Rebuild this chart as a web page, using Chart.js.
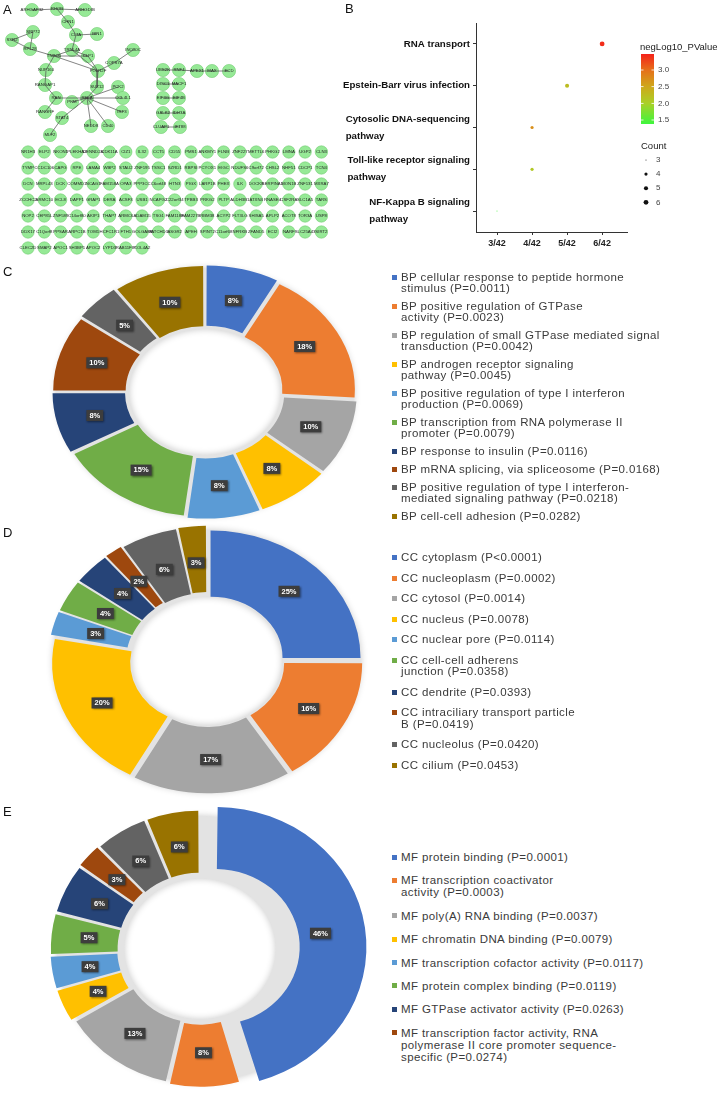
<!DOCTYPE html>
<html>
<head>
<meta charset="utf-8">
<script src="https://cdn.jsdelivr.net/npm/chart.js@4.4.1/dist/chart.umd.min.js"></script>
<style>
body { margin: 0; background: #fff; }
#page { position: relative; width: 717px; height: 1094px; overflow: hidden; font-family: Arial, "Liberation Sans", sans-serif; }
canvas { position: absolute; }
.tag { position: absolute; font-size: 13px; color: #111; }
.legend { position: absolute; left: 392px; font-size: 11.5px; letter-spacing: 0.4px; color: #3a3a3a; white-space: pre; }
.legend .it { position: relative; padding-left: 9px; }
.legend .sw { position: absolute; left: 0; width: 5px; height: 5px; }
</style>
</head>
<body>
<div id="page">
  <canvas id="net" width="360" height="262" style="left:0;top:0"></canvas>
  <canvas id="kegg" width="387" height="260" style="left:330px;top:0"></canvas>
  <canvas id="bp" width="380" height="380" style="left:15px;top:202px"></canvas>
  <canvas id="cc" width="380" height="380" style="left:17px;top:471px"></canvas>
  <canvas id="mf" width="380" height="380" style="left:10px;top:759px"></canvas>
  <div class="tag" style="left:3px;top:2px">A</div>
  <div class="tag" style="left:345px;top:1px">B</div>
  <div class="tag" style="left:3px;top:264px">C</div>
  <div class="tag" style="left:3px;top:525px">D</div>
  <div class="tag" style="left:3px;top:804px">E</div>
  <div class="legend" id="bpLegend" style="top:272px"></div>
  <div class="legend" id="ccLegend" style="top:552px"></div>
  <div class="legend" id="mfLegend" style="top:851px"></div>
</div>
<script>
Chart.defaults.font.family = 'Arial, "Liberation Sans", sans-serif';
Chart.defaults.animation = false;

// ---- A: interaction network (layout coordinates in px of the drawing)
const netNames = ['ARHGAP32','RHOB','ARHGDIB','CHN1','CLTA','BIN1','SRP72','SSR2','RPL28','TRNL4A','TNPO1','CLP1','POLR2F','COPS7A','INO80C','NUP160','RANGAP1','RAN','PKM','RELA','SUZ12','PCK2','CCL4L1','IRF3','CD40','NEDD8','STAT4','MLF2','RANGRF',
  'UBE2K','RNF4','APEX1','MAX','ECD','DISC1','MACF1','EIF3G','EIF4B','GALK2','IDH3A','CLUAP1','IFT88'];
const netX = [32,57,85,68,76,97,33,12,30,72,54,88,98,114,133,46,45,56,72,87,97,118,123,122,108,91,62,50,45,
  163,179,197,212,229,163,179,163,179,163,179,161,180];
const netY = [10,9,10,22,35,34,32,40,49,50,56,56,71,63,50,70,85,98,102,98,87,87,98,112,126,126,118,135,112,
  70,70,71,71,71,84,84,98,98,113,113,127,127];
const edgeFrom = ['RHOB','RHOB','RHOB','CHN1','CLTA','CLTA','SRP72','SRP72','SSR2','RPL28','TNPO1','TNPO1','TNPO1','TRNL4A','TRNL4A','CLP1','POLR2F','COPS7A','POLR2F','TNPO1','NUP160','RANGAP1','RAN','RAN','PKM','SUZ12','RELA','RELA','RELA','RELA','RELA','RELA','STAT4',
  'UBE2K','RNF4','APEX1','MAX','DISC1','EIF3G','GALK2','CLUAP1'];
const edgeTo = ['ARHGAP32','ARHGDIB','CHN1','CLTA','BIN1','TRNL4A','SSR2','RPL28','RPL28','TNPO1','TRNL4A','CLP1','POLR2F','CLP1','POLR2F','POLR2F','COPS7A','INO80C','SUZ12','NUP160','RANGAP1','RAN','RELA','RANGRF','RELA','RELA','PCK2','CCL4L1','IRF3','CD40','NEDD8','STAT4','MLF2',
  'RNF4','APEX1','MAX','ECD','MACF1','EIF4B','IDH3A','IFT88'];
const gridRows = [
  ['NR1H3','ELP2','NKON1','PLEKHA2','DENND2A','CDK11A','CIZ1','IL32','CCT5','CD55','PMS1','ANKMY1','FLNB','ZNF227','METTL6','PHKG2','LMNA','UGP2','CLN3'],
  ['TYMP','CCDC106','CAPG','RPE','LAMA4','WBP2','STAU2','ZNF195','TSSC1','SZRD1','RBPSI','PCYOX1','EIGC','NDUFS6','C9orf72','CHSL2','NHF51','CDCP1','TCN4'],
  ['DCN','MRPL43','DCK','COMMD1','NCAG1','FAM158A','OPA3','PPP3CC','C6orf48','HTN3','PIGX','LARP1B','PHEX','ILK','DOCK8','SERPINA1','MON1B','ZNF131','MXRA7'],
  ['ZCCHC2','ARMC10','ECL8','DAPP1','GRAP1','DERA','ACSF3','USB1','NCAPG2','C22orf34','TPBB3','PRKG2','PLTP','ALDH3B1','ATXN4','RNASE4','CSF2RA','SLC1A5','TARS'],
  ['NOP2','CEP85L','ZNF589','C14orf80','AKIP1','THAP7','ARMC6','ADAM15','TSG1','FAM118B','FAM227B','RBM38','ACYP2','FLT3LG','SHISA5','APLP2','ACOT8','TOR3A','USP8'],
  ['DDX17','C1Qorf8','PPSAR','ARPC1B','TOM1','HCFC1R1','FTH1','GOLGA8A','PATCHD3','ASGR2','APEH','SPINT2','C11orf68','NFRKB','ZFAND5','ECI2','NARF','SLC25A43','SIRT2'],
  ['CLEC2D','SMAP2','APOC1','SH3BP1','APOC2','LYPD3','RAB11FIP','COL4A2']
];

// ---- B: KEGG pathways
const pathways = ['RNA transport','Epstein-Barr virus infection','Cytosolic DNA-sequencing pathway','Toll-like receptor signaling pathway','NF-Kappa B signaling pathway'];
const pathwayLines = [['RNA transport'],['Epstein-Barr virus infection'],['Cytosolic DNA-sequencing','pathway'],['Toll-like receptor signaling','pathway'],['NF-Kappa B signaling','pathway']];
const geneCount = [6, 5, 4, 4, 3];
const negLogP = [3.42, 2.25, 2.72, 2.1, 1.42];
const ratioTicks = [3, 4, 5, 6];
const colourTicks = [3.0, 2.5, 2.0, 1.5];
const countTicks = [3, 4, 5, 6];

// ---- C/D/E: GO terms
const goColours = ['#4472C4','#ED7D31','#A5A5A5','#FFC000','#5B9BD5','#70AD47','#264478','#9E480E','#636363','#997300'];
const bpLabels = ['BP cellular response to peptide hormone\nstimulus (P=0.0011)','BP positive regulation of GTPase\nactivity (P=0.0023)','BP regulation of small GTPase mediated signal\ntransduction (P=0.0042)','BP androgen receptor signaling\npathway (P=0.0045)','BP positive regulation of type I interferon\nproduction (P=0.0069)','BP transcription from RNA polymerase II\npromoter (P=0.0079)','BP response to insulin (P=0.0116)','BP mRNA splicing, via spliceosome (P=0.0168)','BP positive regulation of type I interferon-\nmediated signaling pathway (P=0.0218)','BP cell-cell adhesion (P=0.0282)'];
const bpShare = [8, 18, 10, 8, 8, 15, 8, 10, 5, 10];
const ccLabels = ['CC cytoplasm (P<0.0001)','CC nucleoplasm (P=0.0002)','CC cytosol (P=0.0014)','CC nucleus (P=0.0078)','CC nuclear pore (P=0.0114)','CC cell-cell adherens\njunction (P=0.0358)','CC dendrite (P=0.0393)','CC intraciliary transport particle\nB (P=0.0419)','CC nucleolus (P=0.0420)','CC cilium (P=0.0453)'];
const ccShare = [25, 16, 17, 20, 3, 4, 4, 2, 6, 3];
const mfLabels = ['MF protein binding (P=0.0001)','MF transcription coactivator\nactivity (P=0.0003)','MF poly(A) RNA binding (P=0.0037)','MF chromatin DNA binding (P=0.0079)','MF transcription cofactor activity (P=0.0117)','MF protein complex binding (P=0.0119)','MF GTPase activator activity (P=0.0263)','MF transcription factor activity, RNA\npolymerase II core promoter sequence-\nspecific (P=0.0274)'];
const mfShare = [46, 8, 13, 4, 4, 5, 6, 3, 6, 6];


// ================= A =================
function netPoint(name) {
	var i = netNames.indexOf(name);
	return {x: netX[i], y: netY[i], name: name};
}

function displayNetwork() {
	var ctx = document.getElementById("net").getContext("2d");
	var datasets = [];
	for (var e = 0; e < edgeFrom.length; e++) {
		datasets.push({
			data: [netPoint(edgeFrom[e]), netPoint(edgeTo[e])],
			showLine: true, borderColor: '#505050', borderWidth: 0.7, pointRadius: 0
		});
	}
	datasets.push({
		data: netNames.map(netPoint),
		pointRadius: 6.6, backgroundColor: '#96e996', borderColor: '#72cc72', borderWidth: 0.6,
		isNode: true
	});
	var grid = [];
	gridRows.forEach(function(row, r) {
		row.forEach(function(name, c) {
			grid.push({x: 28 + c * 16.3, y: 152 + r * 16, name: name});
		});
	});
	datasets.push({
		data: grid,
		pointRadius: 6.2, backgroundColor: '#96e996', borderColor: '#72cc72', borderWidth: 0.6,
		isNode: true
	});

	const nodeText = {
		id: 'nodeText',
		afterDatasetsDraw(chart) {
			var c = chart.ctx;
			c.save();
			c.font = '4.3px Arial';
			c.fillStyle = '#222';
			c.textAlign = 'center';
			c.textBaseline = 'middle';
			chart.data.datasets.forEach(function(ds, di) {
				if (!ds.isNode) return;
				chart.getDatasetMeta(di).data.forEach(function(pt, j) {
					c.fillText(ds.data[j].name, pt.x, pt.y);
				});
			});
			c.restore();
		}
	};

	new Chart(ctx, {
		type: 'scatter',
		data: { datasets: datasets },
		options: {
			responsive: false,
			layout: { padding: 0, autoPadding: false },
			scales: {
				x: { display: false, min: 0, max: 360 },
				y: { display: false, min: 0, max: 262, reverse: true }
			},
			plugins: { legend: { display: false }, tooltip: { enabled: false } }
		},
		plugins: [nodeText]
	});
}


// ================= B =================
function pColour(v) {
	const stops = [[1.38, [62, 246, 62]], [2.0, [170, 208, 40]], [2.5, [206, 168, 26]], [3.0, [230, 112, 26]], [3.48, [244, 34, 26]]];
	if (v <= stops[0][0]) return 'rgb(' + stops[0][1].join(',') + ')';
	for (var i = 1; i < stops.length; i++) {
		if (v <= stops[i][0]) {
			var t = (v - stops[i-1][0]) / (stops[i][0] - stops[i-1][0]);
			var a = stops[i-1][1], b = stops[i][1];
			return 'rgb(' + a.map(function(x, k) { return Math.round(x + (b[k] - x) * t); }).join(',') + ')';
		}
	}
	return 'rgb(' + stops[stops.length-1][1].join(',') + ')';
}

function countRadius(n) {
	return 0.5 + 1.9 * Math.sqrt((n - 3) / 3);
}

function displayKegg() {
	var ctx = document.getElementById("kegg").getContext("2d");

	const keggText = {
		id: 'keggText',
		afterDraw(chart) {
			var c = chart.ctx;
			var ys = chart.scales.y;
			c.save();
			c.fillStyle = '#111';
			c.font = 'bold 9.7px Arial';
			c.textBaseline = 'middle';
			c.textAlign = 'left';
			pathwayLines.forEach(function(lines, i) {
				var y = ys.getPixelForValue(i);
				var w = Math.max.apply(null, lines.map(function(l) { return c.measureText(l).width; }));
				var x0 = chart.chartArea.left - 6 - w;
				if (lines.length === 1) {
					c.fillText(lines[0], x0, y);
				} else {
					c.fillText(lines[0], x0, y - 8.5);
					c.fillText(lines[1], x0, y + 8.5);
				}
			});

			// colour bar legend
			var bx = 311, top = 54, bot = 124, lo = 1.38, hi = 3.48;
			var yOf = function(v) { return bot - (v - lo) / (hi - lo) * (bot - top); };
			for (var py = top; py < bot; py++) {
				c.fillStyle = pColour(lo + (bot - py - 0.5) / (bot - top) * (hi - lo));
				c.fillRect(bx, py, 13, 1);
			}
			c.font = '9.5px Arial';
			c.fillStyle = '#222';
			c.fillText('negLog10_PValue', 310, 47.5);
			c.font = '8px Arial';
			colourTicks.forEach(function(v) {
				var y = yOf(v);
				c.fillStyle = '#fff';
				c.fillRect(bx, y - 0.4, 2.5, 0.8);
				c.fillRect(bx + 10.5, y - 0.4, 2.5, 0.8);
				c.fillStyle = '#444';
				c.fillText(v.toFixed(1), 328, y);
			});
			c.font = '9.5px Arial';
			c.fillStyle = '#222';
			c.fillText('Count', 311, 146.5);
			countTicks.forEach(function(n, k) {
				var y = 160 + k * 14.1;
				c.fillStyle = '#111';
				c.beginPath();
				c.arc(316, y, countRadius(n), 0, Math.PI * 2);
				c.fill();
				c.font = '8px Arial';
				c.fillStyle = '#444';
				c.fillText(String(n), 326, y);
			});
			c.restore();
		}
	};

	new Chart(ctx, {
		type: 'bubble',
		data: {
			datasets: [{
				data: pathways.map(function(p, i) { return {x: geneCount[i], y: p, r: countRadius(geneCount[i])}; }),
				backgroundColor: negLogP.map(pColour),
				borderWidth: 0
			}]
		},
		options: {
			responsive: false,
			layout: { padding: { top: 23, right: 90, left: 0, bottom: 0 } },
			scales: {
				x: {
					type: 'linear', min: 2.4, max: 6.71,
					afterBuildTicks: function(s) { s.ticks = ratioTicks.map(function(v) { return {value: v}; }); },
					afterFit: function(s) { s.height = 28; },
					grid: { drawOnChartArea: false, drawTicks: true, tickLength: 3, color: '#333' },
					border: { color: '#333', width: 1 },
					ticks: { color: '#222', font: { size: 9, weight: 'bold' }, padding: 3, maxRotation: 0,
						callback: function(v) { return v + '/42'; } }
				},
				y: {
					type: 'category', labels: pathways, offset: true,
					afterFit: function(s) { s.width = 146; },
					grid: { drawOnChartArea: false, drawTicks: true, tickLength: 3, color: '#333' },
					border: { color: '#333', width: 1 },
					ticks: { display: false }
				}
			},
			plugins: { legend: { display: false }, tooltip: { enabled: false } }
		},
		plugins: [keggText]
	});
}


// ================= C / D / E =================
const ringPlugin = {
	id: 'ring',
	beforeDatasetsDraw(chart, args, opts) {
		var a = chart.getDatasetMeta(0).data[0];
		var c = chart.ctx, cx = a.x, cy = a.y;
		c.save();
		c.translate(cx, cy); c.scale(1, opts.k); c.translate(-cx, -cy);
		c.save();
		c.shadowColor = 'rgba(0,0,0,0.22)';
		c.shadowBlur = 7;
		c.fillStyle = '#e3e3e3';
		c.beginPath();
		c.arc(cx, cy, a.outerRadius + opts.rim, 0, Math.PI * 2);
		c.arc(cx, cy, a.innerRadius + 3.5, 0, Math.PI * 2, true);
		c.fill();
		c.restore();
	},
	afterDatasetsDraw(chart, args, opts) {
		var c = chart.ctx;
		c.restore();
		var meta = chart.getDatasetMeta(0);
		var ds = chart.data.datasets[0];
		c.save();
		c.font = 'bold 7.5px Arial';
		c.textAlign = 'center';
		c.textBaseline = 'middle';
		meta.data.forEach(function(arc, i) {
			var mid = (arc.startAngle + arc.endAngle) / 2;
			var off = (Array.isArray(ds.offset) ? ds.offset[i] : ds.offset) / 4;
			var rr = (arc.innerRadius + arc.outerRadius) / 2 + off;
			var x = arc.x + Math.cos(mid) * rr;
			var y = arc.y + Math.sin(mid) * rr * opts.k;
			var txt = ds.data[i] + '%';
			var w = c.measureText(txt).width + 6;
			c.save();
			c.shadowColor = 'rgba(0,0,0,0.45)';
			c.shadowBlur = 2;
			c.shadowOffsetX = 1;
			c.shadowOffsetY = 1;
			c.fillStyle = '#3d3d3d';
			c.fillRect(x - w / 2, y - 5.5, w, 11);
			c.restore();
			c.fillStyle = '#fff';
			c.fillText(txt, x, y + 0.3);
		});
		c.restore();
	}
};

function displayGo(id, labels, share, offsets, cutout, pad, k) {
	var ctx = document.getElementById(id).getContext("2d");
	new Chart(ctx, {
		type: 'doughnut',
		data: {
			labels: labels,
			datasets: [{
				data: share,
				backgroundColor: goColours,
				borderWidth: 0,
				offset: offsets
			}]
		},
		options: {
			responsive: false,
			cutout: cutout,
			layout: { padding: pad },
			plugins: { legend: { display: false }, tooltip: { enabled: false }, ring: { k: k, rim: 4 } }
		},
		plugins: [ringPlugin]
	});
}

function buildLegend(id, labels, lineH, gap) {
	var el = document.getElementById(id);
	el.style.lineHeight = lineH + 'px';
	labels.forEach(function(t, i) {
		var it = document.createElement('div');
		it.className = 'it';
		it.style.marginBottom = gap + 'px';
		var sw = document.createElement('span');
		sw.className = 'sw';
		sw.style.background = goColours[i];
		sw.style.top = (lineH / 2 - 2.5) + 'px';
		it.appendChild(sw);
		it.appendChild(document.createTextNode(t));
		el.appendChild(it);
	});
}

displayNetwork();
displayKegg();
displayGo('bp', bpLabels, bpShare, 20, '50%', 35, 0.83);
displayGo('cc', ccLabels, ccShare, 20, '48%', 30, 0.85);
displayGo('mf', mfLabels, mfShare, [64, 24, 24, 24, 24, 24, 24, 24, 24, 24], '52%', 19, 0.93);
buildLegend('bpLegend', bpLabels, 11, 7);
buildLegend('ccLegend', ccLabels, 11.5, 9);
buildLegend('mfLegend', mfLabels, 12, 11.4);
</script>
</body>
</html>
